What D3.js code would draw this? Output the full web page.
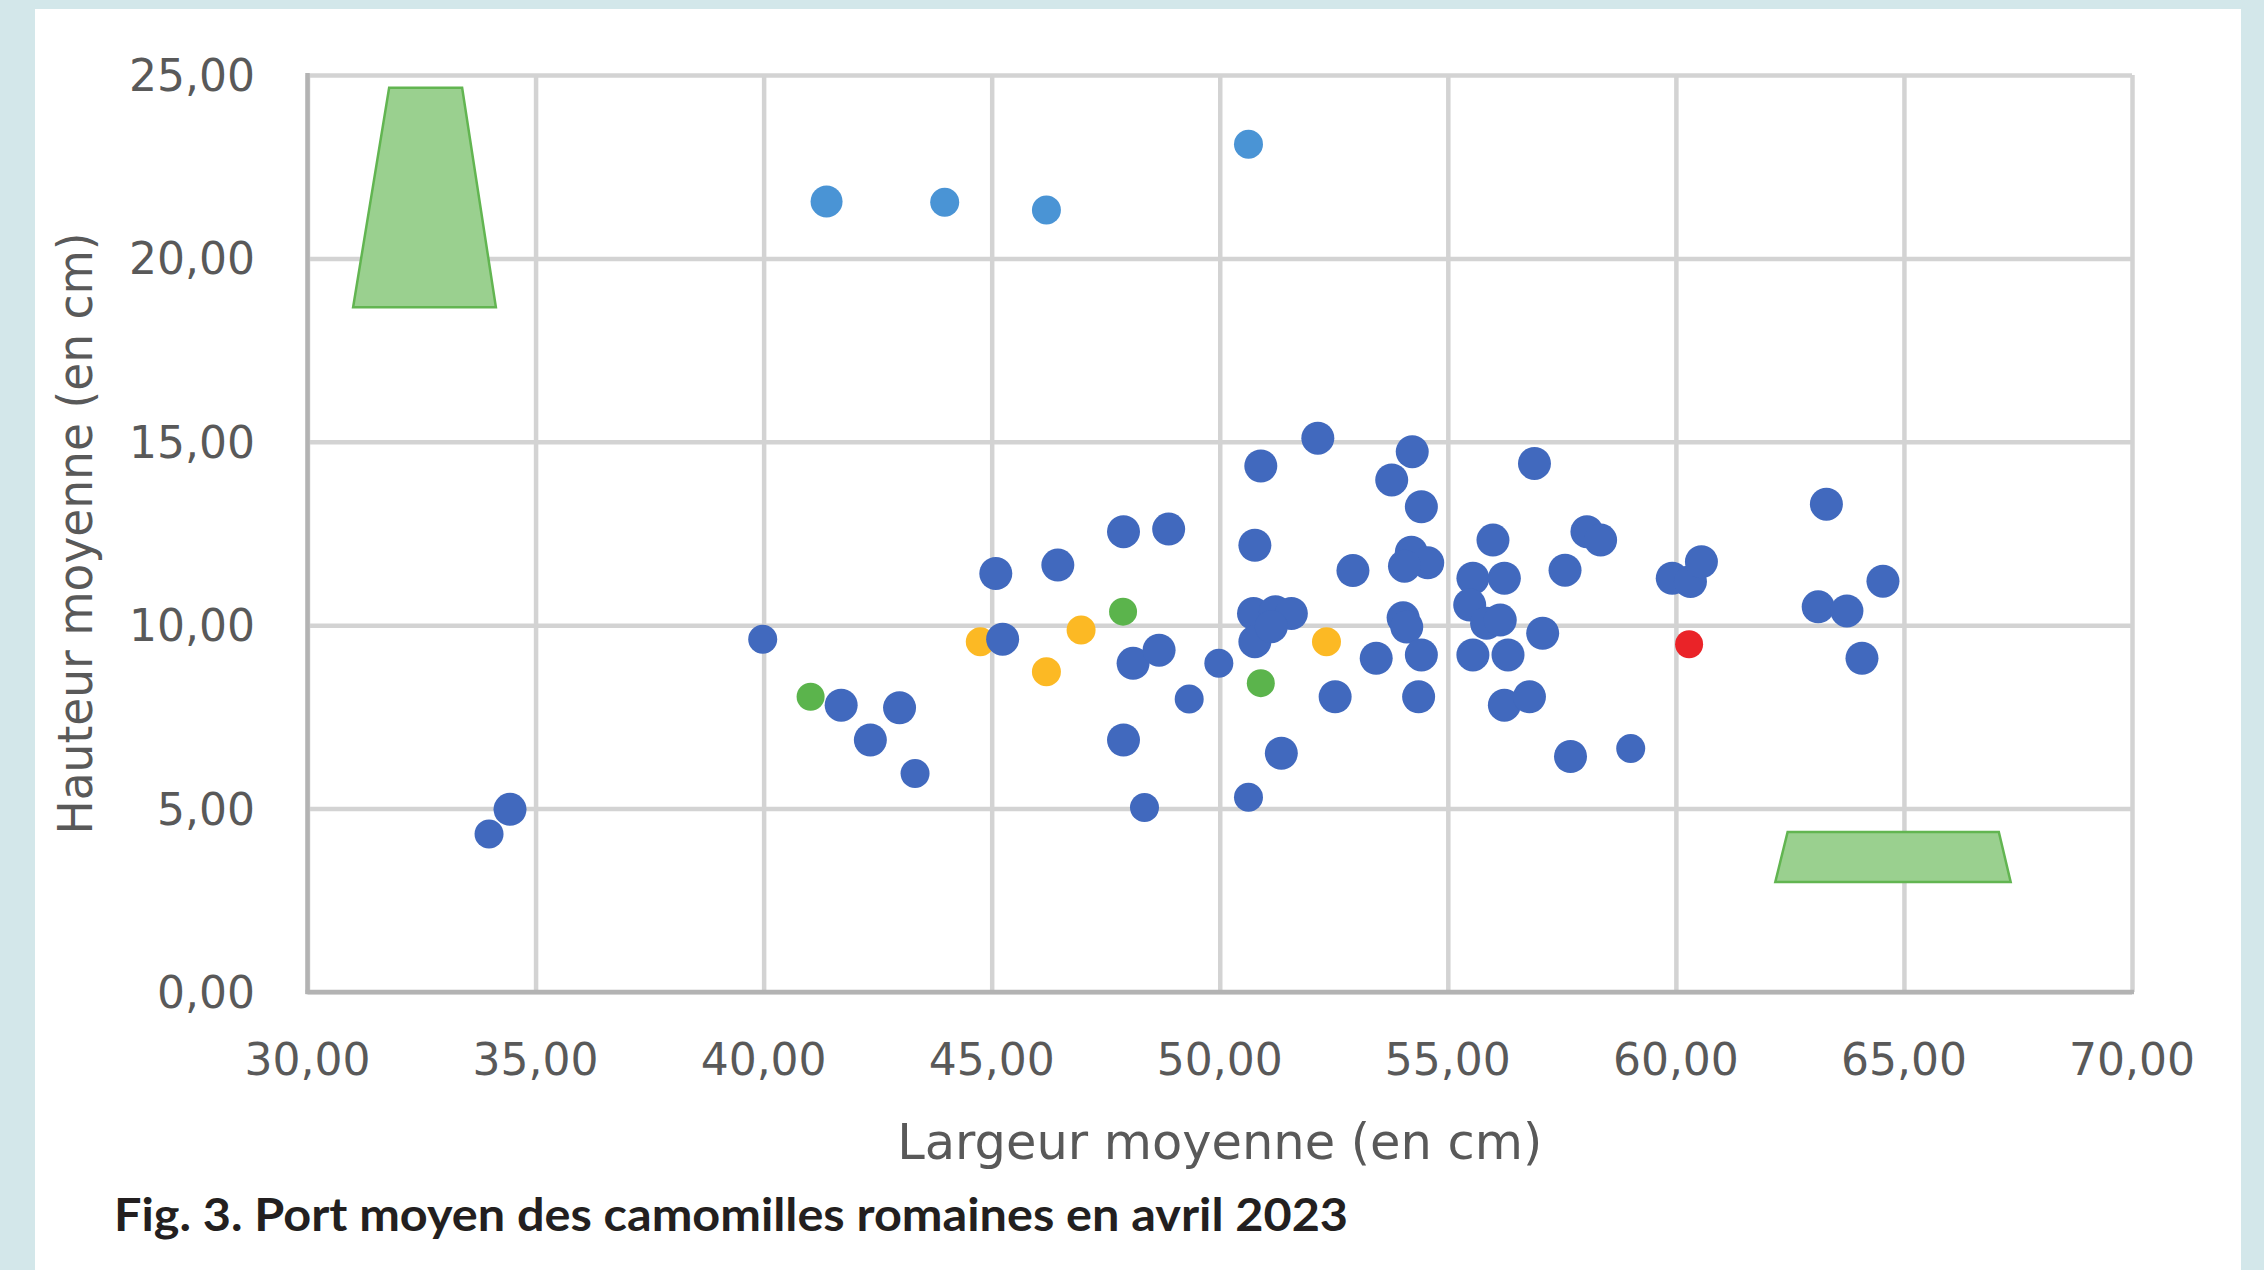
<!DOCTYPE html>
<html>
<head>
<meta charset="utf-8">
<script src="https://cdn.jsdelivr.net/npm/d3@7"></script>
<style>
  html, body { margin: 0; padding: 0; background: #d3e7ea; }
  svg { display: block; }
</style>
</head>
<body>
<svg id="chart" width="2264" height="1270"></svg>
<script>
// ---------- DATA ----------
const xTicks = [30, 35, 40, 45, 50, 55, 60, 65, 70];
const yTicks = [0, 5, 10, 15, 20, 25];

const titleText = "Fig. 3. Port moyen des camomilles romaines en avril 2023";
const xTitle = "Largeur moyenne (en cm)";
const yTitle = "Hauteur moyenne (en cm)";

// dark blue, large markers
const blueLarge = [
  [34.44, 4.98], [41.70, 7.82], [42.98, 7.75], [42.34, 6.87], [45.09, 11.41],
  [46.45, 11.64], [45.24, 9.62], [47.89, 12.55], [48.88, 12.62], [50.77, 12.18],
  [50.90, 14.34], [52.15, 15.10], [52.92, 11.49], [54.22, 14.73], [53.77, 13.96],
  [54.42, 13.23], [56.90, 14.41], [54.20, 11.99], [54.56, 11.70], [54.05, 11.61],
  [55.99, 12.32], [55.55, 11.28], [56.24, 11.28], [55.48, 10.55], [55.85, 10.05],
  [56.15, 10.14], [57.08, 9.78], [55.55, 9.19], [56.32, 9.19], [56.24, 7.82],
  [56.79, 8.05], [50.74, 10.32], [51.22, 10.37], [51.57, 10.32], [50.77, 9.55],
  [51.13, 9.96], [54.02, 10.20], [54.10, 9.95], [53.43, 9.10], [54.42, 9.19],
  [54.36, 8.05], [52.53, 8.05], [48.10, 8.96], [48.67, 9.32], [47.89, 6.87],
  [51.35, 6.51], [58.05, 12.55], [58.35, 12.32], [57.57, 11.50], [57.69, 6.42],
  [59.92, 11.28], [60.32, 11.19], [60.56, 11.73], [63.30, 13.30], [64.54, 11.20],
  [63.12, 10.50], [63.75, 10.39], [64.08, 9.10]
];
// dark blue, small markers
const blueSmall = [
  [33.98, 4.31], [39.98, 9.62], [43.32, 5.96], [49.98, 8.96],
  [49.33, 7.99], [50.63, 5.31], [48.35, 5.03], [59.01, 6.64]
];
// light blue
const lightBlueLarge = [[41.38, 21.55]];
const lightBlueSmall = [[43.97, 21.53], [46.20, 21.32], [50.63, 23.11]];
// orange
const orangePts = [[44.75, 9.55], [46.20, 8.73], [46.96, 9.87], [52.34, 9.55]];
// green
const greenPts = [[41.03, 8.05], [47.88, 10.37], [50.90, 8.42]];
// red
const redPts = [[60.29, 9.48]];

// decorative plant-shape trapezoids (data coordinates)
const shapeTall = [[31.79, 24.65], [33.39, 24.65], [34.13, 18.67], [31.00, 18.67]];
const shapeWide = [[62.45, 4.36], [67.08, 4.36], [67.34, 3.00], [62.18, 3.00]];

// ---------- LAYOUT ----------
const svg = d3.select("#chart");
const plot = { left: 307.5, right: 2132, top: 75, bottom: 992 };

svg.append("rect").attr("x", 0).attr("y", 0).attr("width", 2264).attr("height", 1270).attr("fill", "#d3e7ea");
svg.append("rect").attr("x", 35).attr("y", 9).attr("width", 2206).attr("height", 1261).attr("fill", "#ffffff");

const x = d3.scaleLinear().domain([30, 70]).range([plot.left, plot.right]);
const y = d3.scaleLinear().domain([0, 25]).range([plot.bottom, plot.top]);
const fmt = v => d3.format(".2f")(v).replace(".", ",");

// gridlines
const gridColor = "#d3d3d3";
const gx = svg.append("g").attr("transform", `translate(0,${plot.bottom})`)
  .call(d3.axisBottom(x).tickValues(xTicks).tickSize(-(plot.bottom - plot.top)).tickFormat(""));
gx.select(".domain").remove();
gx.selectAll("line").attr("stroke", gridColor).attr("stroke-width", 4.5);

const gy = svg.append("g").attr("transform", `translate(${plot.left},0)`)
  .call(d3.axisLeft(y).tickValues(yTicks).tickSize(-(plot.right - plot.left)).tickFormat(""));
gy.select(".domain").remove();
gy.selectAll("line").attr("stroke", gridColor).attr("stroke-width", 4.5);

// axis lines
const axisColor = "#b3b3b3";
svg.append("line").attr("x1", x(30)).attr("x2", x(30)).attr("y1", y(25) - 2).attr("y2", y(0) + 2)
  .attr("stroke", axisColor).attr("stroke-width", 4.5);
svg.append("line").attr("x1", x(30) - 2).attr("x2", x(70) + 2).attr("y1", y(0)).attr("y2", y(0))
  .attr("stroke", axisColor).attr("stroke-width", 4.5);

// tick labels
const tickFont = "'DejaVu Sans', Verdana, sans-serif";
svg.append("g").selectAll("text").data(xTicks).join("text")
  .attr("x", d => x(d)).attr("y", 1075)
  .attr("text-anchor", "middle")
  .attr("font-family", tickFont).attr("font-size", 44).attr("fill", "#595959")
  .text(d => fmt(d));

svg.append("g").selectAll("text").data(yTicks).join("text")
  .attr("x", 255).attr("y", d => y(d) + 16)
  .attr("text-anchor", "end")
  .attr("font-family", tickFont).attr("font-size", 44).attr("fill", "#595959")
  .text(d => fmt(d));

// axis titles
svg.append("text")
  .attr("x", (plot.left + plot.right) / 2).attr("y", 1159)
  .attr("text-anchor", "middle")
  .attr("font-family", tickFont).attr("font-size", 49).attr("fill", "#595959")
  .attr("textLength", 645).attr("lengthAdjust", "spacingAndGlyphs")
  .text(xTitle);

svg.append("text")
  .attr("transform", `translate(92,${(plot.top + plot.bottom) / 2}) rotate(-90)`)
  .attr("text-anchor", "middle")
  .attr("font-family", tickFont).attr("font-size", 48).attr("fill", "#595959")
  .attr("textLength", 602).attr("lengthAdjust", "spacingAndGlyphs")
  .text(yTitle);

// figure caption
svg.append("text")
  .attr("x", 114).attr("y", 1231)
  .attr("font-family", "Lato, Roboto, sans-serif").attr("font-weight", 700)
  .attr("font-size", 45).attr("fill", "#231f20")
  .attr("textLength", 1234).attr("lengthAdjust", "spacingAndGlyphs")
  .text(titleText);

// trapezoid shapes
const line = d3.line().x(d => x(d[0])).y(d => y(d[1])).curve(d3.curveLinearClosed);
svg.append("g").selectAll("path").data([shapeTall, shapeWide]).join("path")
  .attr("d", line)
  .attr("fill", "#9ad08f").attr("stroke", "#62b551").attr("stroke-width", 2.5)
  .attr("stroke-linejoin", "miter");

// points
const series = [
  { data: greenPts, color: "#5bb44c", r: 14 },
  { data: orangePts, color: "#fcb924", r: 14.5 },
  { data: redPts, color: "#ea2328", r: 14 },
  { data: lightBlueSmall, color: "#4a94d5", r: 14.5 },
  { data: lightBlueLarge, color: "#4a94d5", r: 16 },
  { data: blueSmall, color: "#4169be", r: 14.5 },
  { data: blueLarge, color: "#4169be", r: 16.5 }
];
series.forEach(s => {
  svg.append("g").selectAll("circle").data(s.data).join("circle")
    .attr("cx", d => x(d[0])).attr("cy", d => y(d[1])).attr("r", s.r)
    .attr("fill", s.color);
});
</script>
</body>
</html>
